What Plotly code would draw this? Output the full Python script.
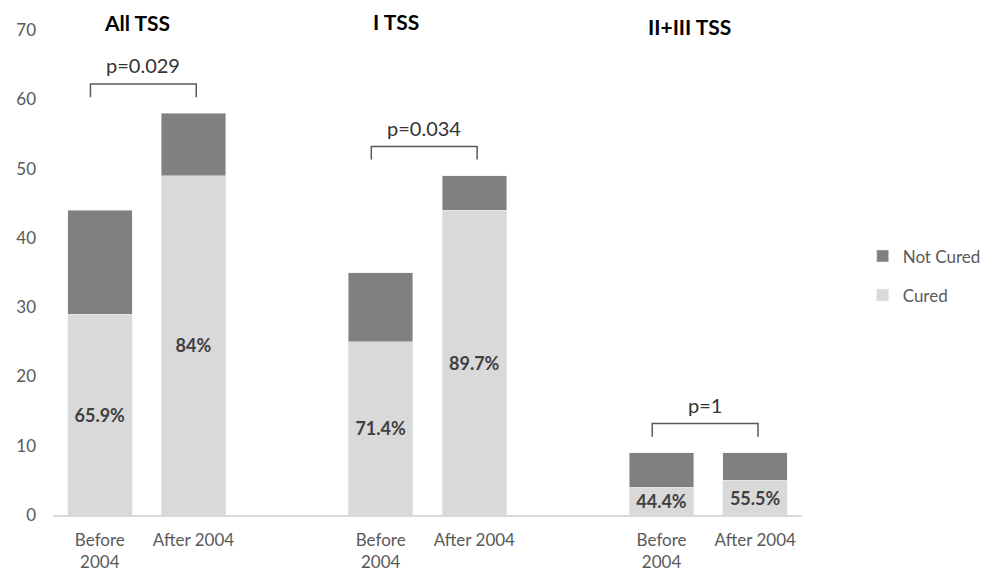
import plotly.graph_objects as go

# ---- data ----
groups = ["All TSS", "I TSS", "II+III TSS"]
periods = ["Before<br>2004", "After 2004"]
cured = [29, 49, 25, 44, 4, 5]
not_cured = [15, 9, 10, 5, 5, 4]
pct_labels = ["65.9%", "84%", "71.4%", "89.7%", "44.4%", "55.5%"]
p_values = ["p=0.029", "p=0.034", "p=1"]
y_ticks = [0, 10, 20, 30, 40, 50, 60, 70]

# category slot positions (one empty slot between groups)
x_pos = [0, 1, 3, 4, 6, 7]
tick_text = periods * 3

FONT = "Lato"
GREY_TXT = "#595959"

fig = go.Figure()
fig.add_trace(go.Bar(
    x=x_pos, y=cured, name="Cured", marker_color="#d9d9d9",
    text=pct_labels, textposition="inside", insidetextanchor="middle",
    constraintext="none",
    textfont=dict(family=FONT, size=18, color="#404040", weight="bold"),
    legendgroup="c", legendrank=2, hoverinfo="skip",
))
fig.add_trace(go.Bar(
    x=x_pos, y=not_cured, name="Not Cured", marker_color="#808080",
    legendgroup="n", legendrank=1, hoverinfo="skip",
))

totals = [c + n for c, n in zip(cured, not_cured)]
shapes = []
annotations = []
title_offsets = [0.4, 0.16, 0.3]
title_y = [1.016, 1.018, 1.008]
for g in range(3):
    xb = x_pos[2 * g]
    xa = x_pos[2 * g + 1]
    top = max(totals[2 * g], totals[2 * g + 1])
    x0, x1 = xb - 0.1, xa + 0.03
    y_low, y_high = top + 2.3, top + 4.2
    shapes.append(dict(
        type="path", xref="x", yref="y",
        path=f"M {x0},{y_low} L {x0},{y_high} L {x1},{y_high} L {x1},{y_low}",
        line=dict(color="#595959", width=1.5),
    ))
    annotations.append(dict(
        x=(x0 + x1) / 2, y=top + 6.9, xref="x", yref="y",
        text=p_values[g], showarrow=False,
        font=dict(family=FONT, size=20, color="#333333"),
    ))
    annotations.append(dict(
        x=xb + title_offsets[g], y=title_y[g], xref="x", yref="paper",
        text=f"<b>{groups[g]}</b>", showarrow=False, yanchor="middle",
        font=dict(family=FONT, size=21, color="#000000"),
    ))

fig.update_layout(
    width=989, height=575,
    barmode="stack", bargap=0.31,
    plot_bgcolor="white", paper_bgcolor="white",
    margin=dict(l=53, r=187, t=30, b=60, autoexpand=False),
    font=dict(family=FONT, color=GREY_TXT),
    shapes=shapes, annotations=annotations,
    legend=dict(
        x=1.081, y=0.493, xanchor="left", yanchor="middle",
        traceorder="grouped", tracegroupgap=14,
        font=dict(family=FONT, size=17, color=GREY_TXT),
        itemwidth=30, bgcolor="rgba(0,0,0,0)",
    ),
    showlegend=True,
)
fig.update_xaxes(
    range=[-0.5, 7.5], tickvals=x_pos, ticktext=tick_text, automargin=False,
    showgrid=False, zeroline=False, showline=True, linecolor="#d9d9d9",
    linewidth=1.5, ticks="", tickfont=dict(family=FONT, size=17, color=GREY_TXT),
    ticklabelstandoff=9,
)
fig.update_yaxes(
    range=[0, 70], tickvals=y_ticks, showgrid=False, zeroline=False, automargin=False,
    showline=False, ticks="", tickfont=dict(family=FONT, size=17, color=GREY_TXT),
    ticklabelstandoff=16,
)

fig.write_html(
    "out.html",
    config={"displayModeBar": False},
    post_script="document.body.style.margin='0';document.body.style.overflow='hidden';",
)
